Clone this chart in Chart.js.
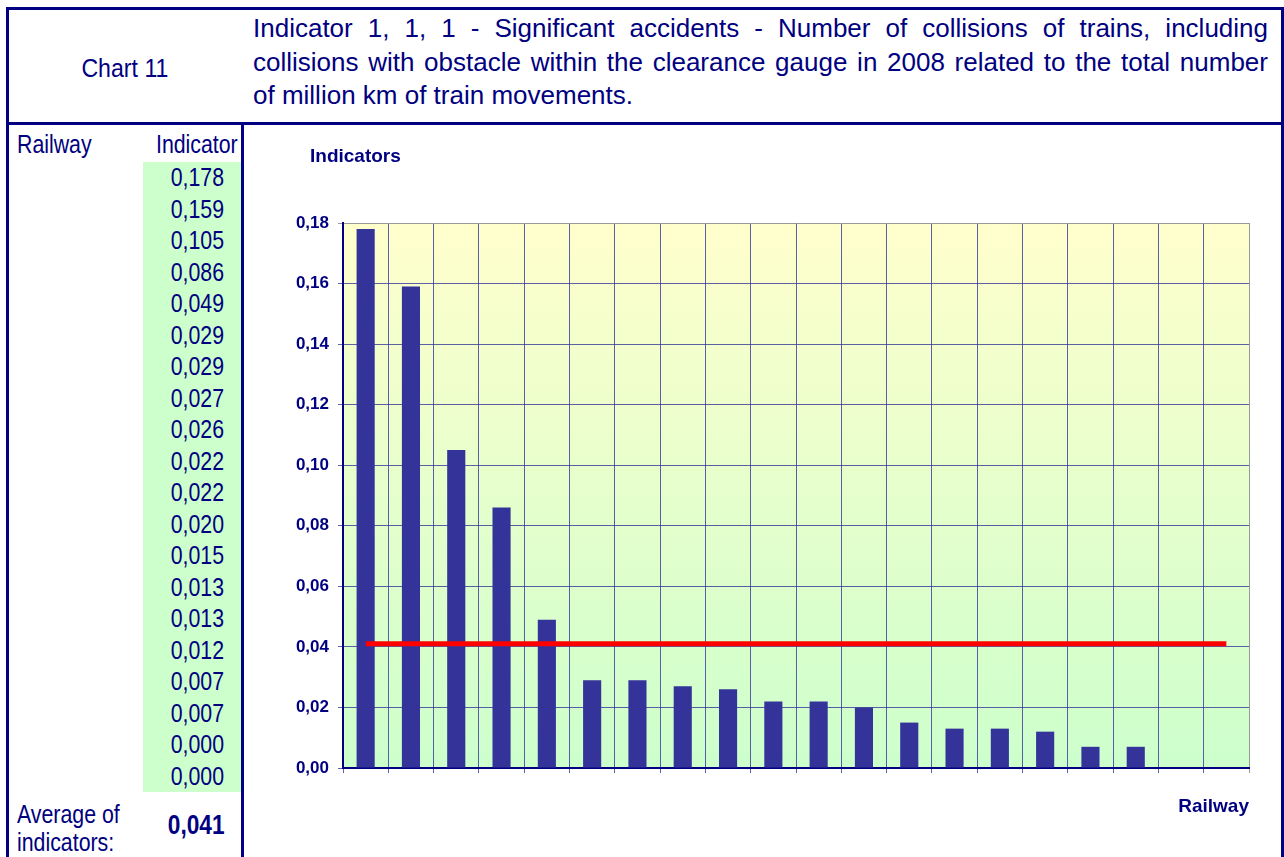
<!DOCTYPE html>
<html>
<head>
<meta charset="utf-8">
<script src="https://cdn.jsdelivr.net/npm/chart.js@4"></script>
<style>
  body { margin: 0; background: #fff; width: 1284px; height: 857px; overflow: hidden; position: relative;
         font-family: "Liberation Sans", Arial, sans-serif; color: #000080; }
  .abs { position: absolute; }
  /* Arial Narrow look: regular face squeezed horizontally */
  .n { display: inline-block; transform: scaleX(0.82); white-space: nowrap; }
  #frame { left: 6px; top: 7px; width: 1278px; height: 900px; box-sizing: border-box; border: 3px solid #000080; }
  #hsep { left: 6px; top: 122px; width: 1278px; height: 3px; background: #000080; }
  #vsep { left: 241px; top: 122px; width: 3px; height: 740px; background: #000080; }
  #chartNo { left: 9px; top: 53px; width: 232px; text-align: center; font-size: 26px; }
  #chartNo .n { transform: scaleX(0.89); transform-origin: center; }
  #title { left: 253px; top: 12px; font-size: 26px; line-height: 33.5px; }
  #title div { width: 1015px; text-align: justify; text-align-last: justify; white-space: nowrap; }
  #title div.last { text-align-last: left; }
  #colRail { left: 17px; top: 129px; font-size: 26px; }
  #colRail .n { transform-origin: left; }
  #colInd { left: 100px; top: 129px; width: 138px; text-align: right; font-size: 26px; }
  #colInd .n { transform-origin: right; }
  #cells { left: 143px; top: 162px; width: 98px; height: 630px; background: #ccffcc; }
  #cells div { height: 31.5px; line-height: 31.5px; text-align: right; padding-right: 17px; font-size: 26px; }
  #cells .n { transform-origin: right; }
  #avgLbl { left: 17px; top: 800px; font-size: 26px; line-height: 28px; }
  #avgLbl .n { transform-origin: left; }
  #avgVal { left: 120px; top: 810px; width: 105px; text-align: right; font-size: 27px; font-weight: bold; }
  #avgVal .n { transform: scaleX(0.84); transform-origin: right; }
  #wrap { left: 244px; top: 126px; width: 1037px; height: 731px; }
</style>
</head>
<body>
<div id="frame" class="abs"></div>
<div id="hsep" class="abs"></div>
<div id="vsep" class="abs"></div>
<div id="chartNo" class="abs"><span class="n">Chart 11</span></div>
<div id="title" class="abs">
  <div>Indicator 1, 1, 1 - Significant accidents - Number of collisions of trains, including</div>
  <div>collisions with obstacle within the clearance gauge in 2008 related to the total number</div>
  <div class="last">of million km of train movements.</div>
</div>
<div id="colRail" class="abs"><span class="n">Railway</span></div>
<div id="colInd" class="abs"><span class="n">Indicator</span></div>
<div id="cells" class="abs"></div>
<div id="avgLbl" class="abs"><span class="n">Average of</span><br><span class="n">indicators:</span></div>
<div id="avgVal" class="abs"><span class="n" id="avgNum"></span></div>
<div id="wrap" class="abs"><canvas id="chart"></canvas></div>

<script>
// railway names are not shown in the picture, so the categories are blank
const railways = ['', '', '', '', '', '', '', '', '', '', '', '', '', '', '', '', '', '', '', ''];
const indicators = [0.178, 0.159, 0.105, 0.086, 0.049, 0.029, 0.029, 0.027, 0.026, 0.022,
                    0.022, 0.020, 0.015, 0.013, 0.013, 0.012, 0.007, 0.007, 0.000, 0.000];
const averageIndicator = 0.041;
const yTicks = [0, 0.02, 0.04, 0.06, 0.08, 0.10, 0.12, 0.14, 0.16, 0.18];

const NAVY = '#000080';
const FONT = '"Liberation Sans", Arial, sans-serif';
const gridColor = 'rgba(55, 55, 155, 0.8)';
const comma = (v, d) => v.toFixed(d).replace('.', ',');

// left table
const cells = document.getElementById('cells');
indicators.forEach(v => {
    const row = document.createElement('div');
    row.innerHTML = '<span class="n">' + comma(v, 3) + '</span>';
    cells.appendChild(row);
});
document.getElementById('avgNum').textContent = comma(averageIndicator, 3);

// yellow -> green plot background, "Indicators" caption
const plotDecor = {
    id: 'plotDecor',
    beforeDraw(chart) {
        const {ctx, chartArea: a} = chart;
        const g = ctx.createLinearGradient(0, a.top, 0, a.bottom);
        g.addColorStop(0, '#ffffcc');
        g.addColorStop(1, '#ccffcc');
        ctx.save();
        ctx.fillStyle = g;
        ctx.fillRect(a.left, a.top, a.right - a.left, a.bottom - a.top);
        ctx.restore();
    },
    afterDraw(chart) {
        const ctx = chart.ctx;
        ctx.save();
        ctx.font = 'bold 19px ' + FONT;
        ctx.fillStyle = NAVY;
        ctx.textBaseline = 'middle';
        ctx.fillText('Indicators', 66, 31);
        ctx.restore();
    }
};

new Chart(document.getElementById('chart'), {
    type: 'bar',
    data: {
        labels: railways,
        datasets: [{
            type: 'line',
            data: railways.map(() => averageIndicator),
            borderColor: '#ff0000',
            borderWidth: 5,
            pointRadius: 0,
            order: 1
        }, {
            data: indicators,
            backgroundColor: '#333399',
            categoryPercentage: 1,
            barPercentage: 0.4,
            order: 2
        }]
    },
    options: {
        responsive: true,
        maintainAspectRatio: false,
        animation: false,
        layout: { padding: { top: 97, right: 32, left: 0, bottom: 0 } },
        plugins: { legend: { display: false }, tooltip: { enabled: false } },
        scales: {
            x: {
                grid: {
                    offset: true,
                    color: c => c.type === 'tick' ? gridColor : '#999999',
                    tickLength: 5
                },
                border: { color: NAVY, width: 2 },
                ticks: { display: false },
                title: {
                    display: true,
                    text: 'Railway',
                    align: 'end',
                    color: NAVY,
                    font: { family: FONT, size: 19, weight: 'bold' },
                    padding: { top: 0, bottom: 39 }
                },
                afterFit: s => { s.height = 89; }
            },
            y: {
                min: 0,
                max: 0.18,
                afterBuildTicks: s => { s.ticks = yTicks.map(v => ({ value: v })); },
                ticks: {
                    color: NAVY,
                    padding: 9,
                    font: { family: FONT, size: 17, weight: 'bold' },
                    callback: v => comma(v, 2)
                },
                grid: {
                    color: c => (c.tick && Math.abs(c.tick.value - 0.18) < 1e-9) ? '#999999' : gridColor,
                    tickLength: 5
                },
                border: { color: NAVY, width: 2 },
                afterFit: s => { s.width = 99; }
            }
        }
    },
    plugins: [plotDecor]
});
</script>
</body>
</html>
